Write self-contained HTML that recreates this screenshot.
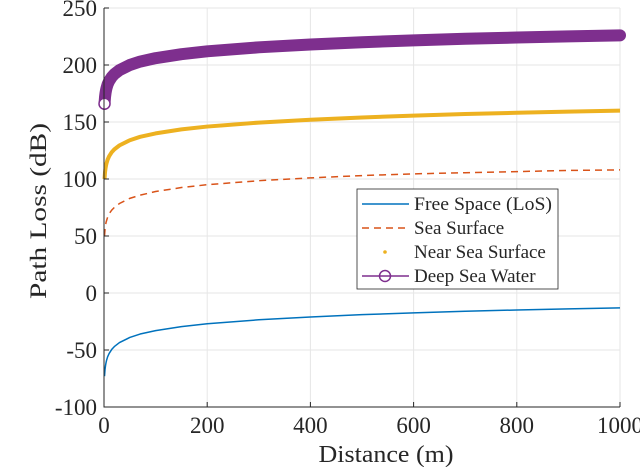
<!DOCTYPE html>
<html><head><meta charset="utf-8"><style>
body{margin:0;background:#fff}
svg text{font-family:"Liberation Serif",serif;fill:#262626}
</style></head><body>
<svg id="chart" width="640" height="467" viewBox="0 0 640 467" xmlns="http://www.w3.org/2000/svg">
<g id="grid"></g>
<g id="series"></g>
<g id="axes"></g>
<text x="46" y="211" font-size="23" text-anchor="middle" textLength="176" lengthAdjust="spacingAndGlyphs" transform="rotate(-90 46 211)">Path Loss (dB)</text>
<text x="386" y="462" font-size="24" text-anchor="middle" textLength="135" lengthAdjust="spacingAndGlyphs">Distance (m)</text>
<text x="-6" y="437" font-size="20">)</text>
<g>
<rect x="357" y="189" width="201" height="100" fill="#fff" stroke="#262626" stroke-width="0.8"/>
<g><line x1="362" y1="204" x2="409" y2="204" stroke="#0072BD" stroke-width="1.5"/><text x="414" y="210" font-size="19" textLength="138" lengthAdjust="spacingAndGlyphs">Free Space (LoS)</text></g>
<g><line x1="362" y1="228" x2="409" y2="228" stroke="#D95319" stroke-width="1.5" stroke-dasharray="7,5"/><text x="414" y="234" font-size="19">Sea Surface</text></g>
<g><circle cx="385" cy="252" r="1.8" fill="#EDB120"/><text x="414" y="258" font-size="19">Near Sea Surface</text></g>
<g><line x1="362" y1="276" x2="409" y2="276" stroke="#7E2F8E" stroke-width="1.5"/><circle cx="385" cy="276" r="5.5" fill="none" stroke="#7E2F8E" stroke-width="1.5"/><text x="414" y="282" font-size="19">Deep Sea Water</text></g>
</g>
</svg>
<script>
const distances=[1,2,3,4,5,7,10,15,20,30,50,70,100,150,200,300,400,500,600,700,800,900,1000];
const freeSpace=[-73,-67,-63.5,-61,-59,-56,-53,-49.5,-47,-43.5,-39,-36,-33,-29.5,-27,-23.5,-21,-19,-17.4,-16,-14.9,-13.9,-13];
const seaSurface=[50,56,59.5,62,63.5,66.5,69.5,72.7,75,78.5,83,85.8,89,92.5,95,98.5,101,103,104.5,105.5,106.5,107.5,108];
const nearSeaSurface=[100,106,109.5,112,114,117,120,123.5,126,129.5,134,137,140,143.5,146,149.5,152,154,155.6,157,158.1,159.1,160];
const deepSeaWater=[166,172,175.5,178,180,183,186,189.5,192,195.5,200,203,206,209.5,212,215.5,218,220,221.6,223,224.1,225.1,226];
const xTicks=[0,200,400,600,800,1000];
const yTicks=[-100,-50,0,50,100,150,200,250];
const X0=104,X1=620,Y0=407,Y1=8;
const xs=v=>X0+(v-0)/(1000-0)*(X1-X0);
const ys=v=>Y0-(v+100)/350*(Y0-Y1);
const NS="http://www.w3.org/2000/svg";
function mk(tag,attrs,parent){const e=document.createElementNS(NS,tag);for(const k in attrs)e.setAttribute(k,attrs[k]);parent.appendChild(e);return e;}
const grid=document.getElementById('grid'),axes=document.getElementById('axes'),series=document.getElementById('series');
xTicks.forEach(t=>{
 const g=mk('line',{x1:xs(t),x2:xs(t),y1:Y1,y2:Y0,stroke:'#e6e6e6','stroke-width':1},grid);
 
 
 const tk=mk('line',{x1:xs(t),x2:xs(t),y1:Y0,y2:Y0-5,stroke:'#262626','stroke-width':1},axes);
 
 
 const tx=mk('text',{x:xs(t),y:Y0+26,'font-size':23,'text-anchor':'middle'},axes);
 tx.textContent=t;
 
 
});
yTicks.forEach(t=>{
 const g=mk('line',{x1:X0,x2:X1,y1:ys(t),y2:ys(t),stroke:'#e6e6e6','stroke-width':1},grid);
 
 
 const tk=mk('line',{x1:X0,x2:X0+5,y1:ys(t),y2:ys(t),stroke:'#262626','stroke-width':1},axes);
 
 
 const tx=mk('text',{x:X0-7,y:ys(t)+8,'font-size':23,'text-anchor':'end'},axes);
 tx.textContent=t;
 
 
});
const ax=mk('path',{d:`M${X0},${Y1}V${Y0}H${X1}`,fill:'none',stroke:'#262626','stroke-width':1},axes);


function pts(arr){return distances.map((d,i)=>xs(d)+','+ys(arr[i])).join(' ');}
const l1=mk('polyline',{points:pts(freeSpace),fill:'none',stroke:'#0072BD','stroke-width':1.5,'stroke-linejoin':'round'},series);


const l2=mk('polyline',{points:pts(seaSurface),fill:'none',stroke:'#D95319','stroke-width':1.5,'stroke-dasharray':'7,5'},series);


const l3=mk('polyline',{points:pts(nearSeaSurface),fill:'none',stroke:'#EDB120','stroke-width':4,'stroke-linejoin':'round'},series);


const l4=mk('polyline',{points:pts(deepSeaWater),fill:'none',stroke:'#7E2F8E','stroke-width':12,'stroke-linejoin':'round','stroke-linecap':'round'},series);


const c=mk('circle',{cx:xs(distances[0]),cy:ys(deepSeaWater[0]),r:5.5,fill:'#fff',stroke:'#7E2F8E','stroke-width':1.5},series);


</script>
</body></html>
